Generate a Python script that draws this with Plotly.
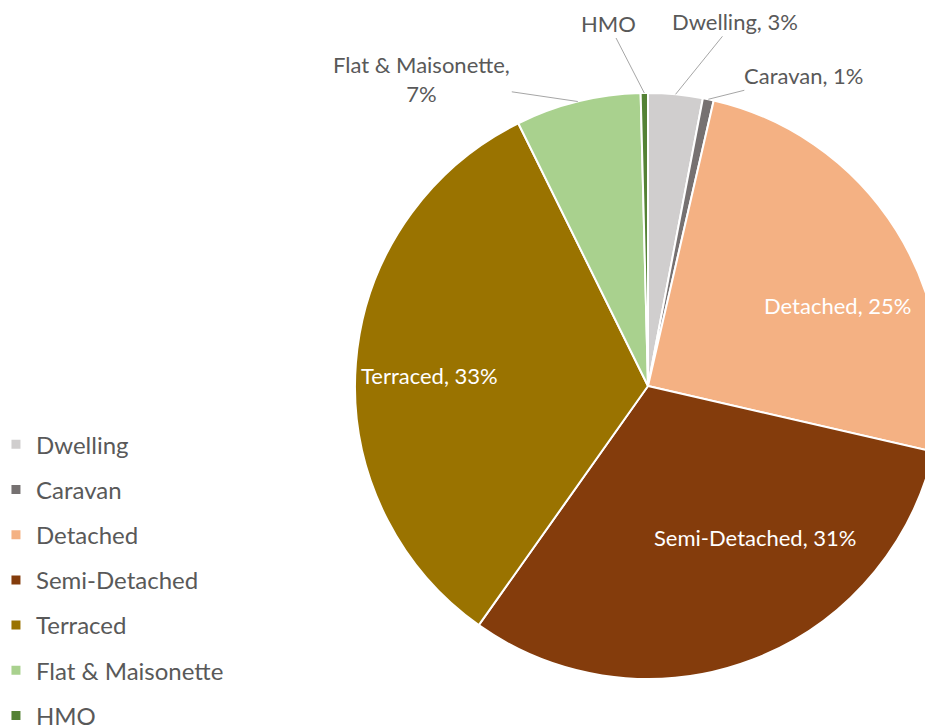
import math
import plotly.graph_objects as go

labels = ['Dwelling', 'Caravan', 'Detached', 'Semi-Detached', 'Terraced', 'Flat & Maisonette', 'HMO']
values = [3.0, 0.6, 25.0, 31.2, 32.9, 6.9, 0.4]
colors = ['#D0CECE', '#767171', '#F4B183', '#843C0C', '#9A7300', '#A9D18E', '#548235']

W, H = 933, 728
cx, cy, r = 640, 378, 293
FONT = 'Lato'
GREY = '#595959'

fig = go.Figure()

fig.add_trace(go.Pie(
    labels=labels,
    values=values,
    sort=False,
    direction='clockwise',
    rotation=0,
    marker=dict(colors=colors, line=dict(color='white', width=2)),
    textinfo='none',
    showlegend=False,
    domain=dict(x=[(cx - r) / W, min(1, (cx + r) / W)], y=[1 - (cy + r) / H, 1 - (cy - r) / H]),
))

# outside labels (thin slices): text offset from the rim point, with leader line
outside = {
    'Dwelling': (59, -73),
    'Caravan': (96, -24),
    'Flat & Maisonette': (-156, -23),
    'HMO': (-36, -70),
}
# inside labels: placed at 0.68 r along the bisector, nudged like Excel's best fit
inside = {
    'Detached': (21, -25),
    'Semi-Detached': (36, 35),
    'Terraced': (-20, -5),
}

total = sum(values)
cum = 0
for lab, v in zip(labels, values):
    mid = (cum + v / 2) / total * 2 * math.pi
    cum += v
    pct = round(v / total * 100)
    if lab in outside:
        if lab == 'HMO':
            txt = lab
        elif lab == 'Flat & Maisonette':
            txt = f'{lab},<br>{pct}%'
        else:
            txt = f'{lab}, {pct}%'
        tx = cx + r * math.sin(mid)
        ty = cy - r * math.cos(mid)
        ax, ay = outside[lab]
        fig.add_annotation(
            x=tx / W, y=1 - ty / H, xref='paper', yref='paper',
            ax=ax, ay=ay, text=txt, showarrow=True, arrowhead=0,
            arrowwidth=1, arrowcolor='#A6A6A6', standoff=0,
            font=dict(size=22, color=GREY, family=FONT),
        )
    elif lab in inside:
        tx = cx + 0.68 * r * math.sin(mid)
        ty = cy - 0.68 * r * math.cos(mid)
        dx, dy = inside[lab]
        fig.add_annotation(
            x=tx / W, y=1 - ty / H, xref='paper', yref='paper',
            xanchor='center', yanchor='middle',
            xshift=dx, yshift=dy, text=f'{lab}, {pct}%', showarrow=False,
            font=dict(size=22, color='white', family=FONT),
        )

# legend entries, one group each so the spacing can be opened up
for lab, col in zip(labels, colors):
    fig.add_trace(go.Scatter(
        x=[None], y=[None], mode='markers', name=lab, legendgroup=lab,
        marker=dict(symbol='square', size=9, color=col),
    ))

fig.update_layout(
    width=W, height=H,
    margin=dict(l=0, r=0, t=0, b=0, autoexpand=False),
    paper_bgcolor='white', plot_bgcolor='white',
    font=dict(family=FONT, color=GREY),
    xaxis=dict(visible=False), yaxis=dict(visible=False),
    legend=dict(
        x=-0.0129, y=-0.003, xanchor='left', yanchor='bottom',
        font=dict(size=24, color=GREY),
        tracegroupgap=11, itemwidth=30,
    ),
)

fig.write_html("out.html")
